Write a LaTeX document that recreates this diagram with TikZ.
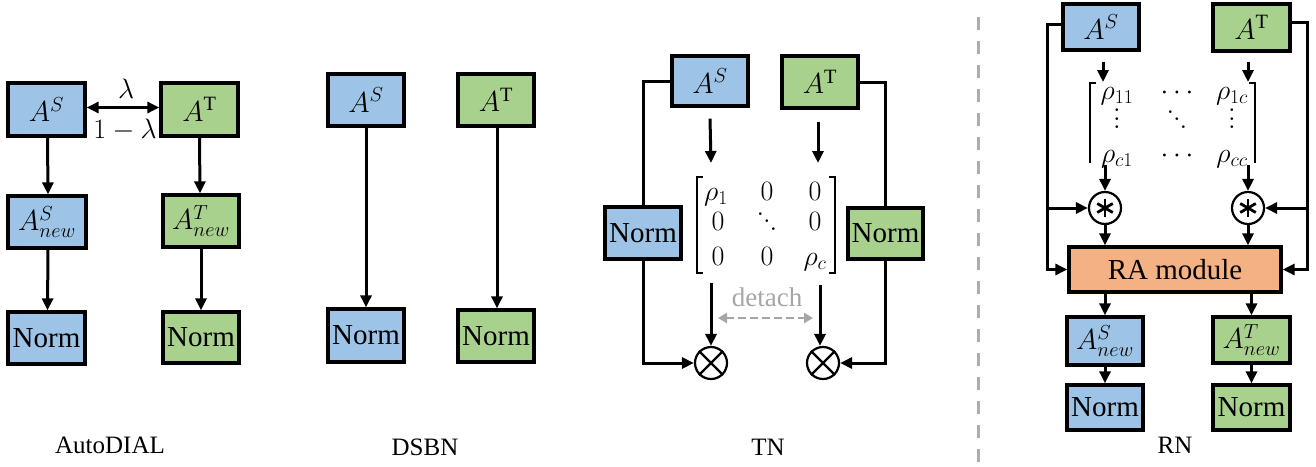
\RequirePackage{fix-cm}
\documentclass[tikz,border=0pt]{standalone}
\usepackage{fontspec}
\setmainfont{Liberation Serif}
\usetikzlibrary{arrows.meta,calc}
\definecolor{sblue}{HTML}{9DC3E6}
\definecolor{tgreen}{HTML}{A9D18E}
\definecolor{raorange}{HTML}{F4B183}
\definecolor{sepgray}{HTML}{AFABAB}
\definecolor{detgray}{HTML}{A6A6A6}
\newcommand{\myvdots}{\vbox{\baselineskip=8.5pt\lineskiplimit=-20pt\hbox{$.$}\hbox{$.$}\hbox{$.$}}}
\newcommand{\myddots}{\hbox{\raise0.55em\hbox{$.$}\kern-0.04em\raise0.28em\hbox{$.$}\kern-0.04em\hbox{$.$}}}
\begin{document}
\begin{tikzpicture}[x=1pt,y=-1pt,
 bx/.style={draw, line width=3.3pt, inner sep=0pt, font=\fontsize{29}{31}\selectfont},
 sb/.style={bx, fill=sblue},
 tg/.style={bx, fill=tgreen},
 arr/.style={line width=3pt, -{Triangle[length=12pt,width=11pt]}},
 darr/.style={line width=3pt, {Triangle[length=12pt,width=11pt]}-{Triangle[length=12pt,width=11pt]}},
 ln/.style={line width=3pt},
 op/.style={circle, draw, line width=2.2pt, minimum size=32pt, inner sep=0pt, fill=white},
 ent/.style={font=\fontsize{28}{30}\selectfont, inner sep=0pt, anchor=base},
 brk/.style={line width=2.2pt},
 captxt/.style={font=\fontsize{25}{27}\selectfont, inner sep=0pt}
]
\useasboundingbox (0,0) rectangle (1316,466);

% ---------------- AutoDIAL ----------------
\node[sb, minimum width=77pt, minimum height=53pt] (a1s) at (46.5,109.5) {$A^{S}$};
\node[tg, minimum width=77pt, minimum height=53pt] (a1t) at (199.5,109.5) {$A^{\mathrm{T}}$};
\node[sb, minimum width=78pt, minimum height=52pt] (a1sn) at (47,222) {$A^{S}_{new}$};
\node[tg, minimum width=76pt, minimum height=52pt] (a1tn) at (201,221) {$A^{T}_{new}$};
\node[sb, minimum width=77pt, minimum height=52pt] (a1sN) at (46.5,338) {Norm};
\node[tg, minimum width=76pt, minimum height=51pt] (a1tN) at (201,337.5) {Norm};
\draw[darr] ([yshift=2pt]a1s.east) -- ([yshift=2pt]a1t.west);
\node[ent, anchor=center] (lam) at (126,89) {$\lambda$};
\node[ent, anchor=center] (lam1) at (125,130) {$1-\lambda$};
\draw[arr] ([xshift=1pt]a1s.south) -- ([xshift=1pt]a1sn.north);
\draw[arr] (a1t.south) -- ([xshift=-1pt]a1tn.north);
\draw[arr] ([xshift=1pt]a1sn.south) -- ([xshift=1pt]a1sN.north);
\draw[arr] (a1tn.south) -- (a1tN.north);
\node[captxt] (capA) at (110,445) {AutoDIAL};

% ---------------- DSBN ----------------
\node[sb, minimum width=76pt, minimum height=52pt] (ds) at (366,100) {$A^{S}$};
\node[tg, minimum width=76pt, minimum height=52pt] (dt) at (496,100) {$A^{\mathrm{T}}$};
\node[sb, minimum width=76pt, minimum height=53pt] (dsN) at (366,335.5) {Norm};
\node[tg, minimum width=76pt, minimum height=52pt] (dtN) at (496,336) {Norm};
\draw[arr] (ds.south) -- (dsN.north);
\draw[arr] ([xshift=1pt]dt.south) -- ([xshift=1pt]dtN.north);
\node[captxt] (capD) at (425,447) {DSBN};

% ---------------- TN ----------------
\node[sb, minimum width=76pt, minimum height=50pt] (ts) at (710,81) {$A^{S}$};
\node[tg, minimum width=76pt, minimum height=52pt] (tt) at (820,82) {$A^{\mathrm{T}}$};
\node[sb, minimum width=76pt, minimum height=52pt] (tsN) at (643,233) {Norm};
\node[tg, minimum width=75pt, minimum height=51pt] (ttN) at (885.5,233.5) {Norm};
\node[op] (to1) at (711,363) {};
\node[op] (to2) at (823,363) {};
\draw[line width=2.2pt] (to1.north west) -- (to1.south east) (to1.north east) -- (to1.south west);
\draw[line width=2.2pt] (to2.north west) -- (to2.south east) (to2.north east) -- (to2.south west);
% matrix
\draw[brk] (703,177) -- (697,177) -- (697,273) -- (703,273);
\draw[brk] (829,177) -- (835,177) -- (835,273) -- (829,273);
\node[ent] (m11) at (716,200) {$\rho_1$};
\node[ent] (m12) at (767,200) {$0$};
\node[ent] (m13) at (815,200) {$0$};
\node[ent] (m21) at (718,230) {$0$};
\node[ent, anchor=south] (m22) at (767,231) {\myddots};
\node[ent] (m23) at (815,230) {$0$};
\node[ent] (m31) at (718,265) {$0$};
\node[ent] (m32) at (767,265) {$0$};
\node[ent] (m33) at (815,265) {$\rho_c$};
\coordinate (tm1) at (711,163);
\coordinate (tm2) at (818,163);
\coordinate (tb1) at (711,283);
\coordinate (tb2) at (820,285);
\draw[arr] ([yshift=-11pt]ts.south) -- (tm1);
\draw[arr] ([xshift=-2pt,yshift=-12pt]tt.south) -- (tm2);
\draw[arr] (tb1) -- (to1.north);
\draw[arr] (tb2) -- ([xshift=-3pt]to2.north);
\draw[ln] (ts.west) -| (tsN.north);
\draw[arr] (tsN.south) |- (to1.west);
\draw[ln] (tt.east) -| (ttN.north);
\draw[arr] (ttN.south) |- (to2.east);
\node[font=\fontsize{27}{29}\selectfont, text=detgray, inner sep=0pt] (det) at (767,297) {detach};
\coordinate (dl) at (718,318);
\coordinate (dr) at (813,318);
\draw[line width=2.6pt, detgray, dash pattern=on 8pt off 4pt, {Triangle[length=9pt,width=10pt]}-{Triangle[length=9pt,width=10pt]}] (dl) -- (dr);
\node[captxt] (capT) at (768,447) {TN};

% ---------------- separator ----------------
\draw[line width=3pt, sepgray, dash pattern=on 13pt off 11pt] (978,17) -- (978,466);

% ---------------- RN ----------------
\node[sb, minimum width=76pt, minimum height=46pt] (rs) at (1101,27) {$A^{S}$};
\node[tg, minimum width=77pt, minimum height=47pt] (rt) at (1251.5,27.5) {$A^{\mathrm{T}}$};
\node[op, minimum size=32pt] (rc1) at (1105,208) {};
\node[op, minimum size=32pt] (rc2) at (1248,208) {};
\foreach \c in {rc1,rc2}{
  \draw[line width=2.8pt] ([yshift=-9pt]\c.center) -- ([yshift=9pt]\c.center);
  \draw[line width=2.8pt] ($(\c.center)+(30:9)$) -- ($(\c.center)+(210:9)$);
  \draw[line width=2.8pt] ($(\c.center)+(150:9)$) -- ($(\c.center)+(330:9)$);
}
\node[bx, fill=raorange, minimum width=212pt, minimum height=45pt] (ra) at (1175,269.5) {RA module};
\node[sb, minimum width=76pt, minimum height=48pt] (rsn) at (1105,341) {$A^{S}_{new}$};
\node[tg, minimum width=77pt, minimum height=46pt] (rtn) at (1251.5,340) {$A^{T}_{new}$};
\node[sb, minimum width=76pt, minimum height=45pt] (rsN) at (1105,407.5) {Norm};
\node[tg, minimum width=77pt, minimum height=45pt] (rtN) at (1251.5,407.5) {Norm};
% matrix
\draw[brk] (1096,83) -- (1090,83) -- (1090,163);
\draw[brk] (1249,83) -- (1255,83) -- (1255,163);
\node[ent] (n11) at (1117,99) {$\rho_{11}$};
\node[ent] (n12) at (1177,99) {$\cdots$};
\node[ent] (n13) at (1232,99) {$\rho_{1c}$};
\node[ent, anchor=south] (n21) at (1117,129) {\myvdots};
\node[ent, anchor=south] (n22) at (1177,129) {\myddots};
\node[ent, anchor=south] (n23) at (1232,129) {\myvdots};
\node[ent] (n31) at (1117,162) {$\rho_{c1}$};
\node[ent] (n32) at (1177,162) {$\cdots$};
\node[ent] (n33) at (1232,162) {$\rho_{cc}$};
\coordinate (rm1) at (1103,82);
\coordinate (rm2) at (1248,82);
\coordinate (rb1) at (1105,165);
\coordinate (rb2) at (1248,165);
\draw[arr] ([xshift=2pt,yshift=-10pt]rs.south) -- (rm1);
\draw[arr] ([xshift=-3.5pt,yshift=-9.5pt]rt.south) -- (rm2);
\draw[arr] (rb1) -- (rc1.north);
\draw[arr] (rb2) -- (rc2.north);
\draw[arr] (rc1.south) -- (rc1.south |- ra.north);
\draw[arr] (rc2.south) -- (rc2.south |- ra.north);
\coordinate (rl) at (1047,208);
\coordinate (rr) at (1307,208);
\draw[ln] ([yshift=3pt]rs.west) -| (rl);
\draw[arr] (rl) -- (rc1.west);
\draw[arr] (rl) |- (ra.west);
\draw[ln] ([yshift=5pt]rt.east) -| (rr);
\draw[arr] (rr) -- (rc2.east);
\draw[arr] (rr) |- (ra.east);
\draw[arr] (ra.south -| rsn.north) -- (rsn.north);
\draw[arr] (ra.south -| rtn.north) -- (rtn.north);
\draw[arr] (rsn.south) -- (rsN.north);
\draw[arr] (rtn.south) -- (rtN.north);
\node[captxt] (capR) at (1175,445) {RN};
\end{tikzpicture}
\end{document}
